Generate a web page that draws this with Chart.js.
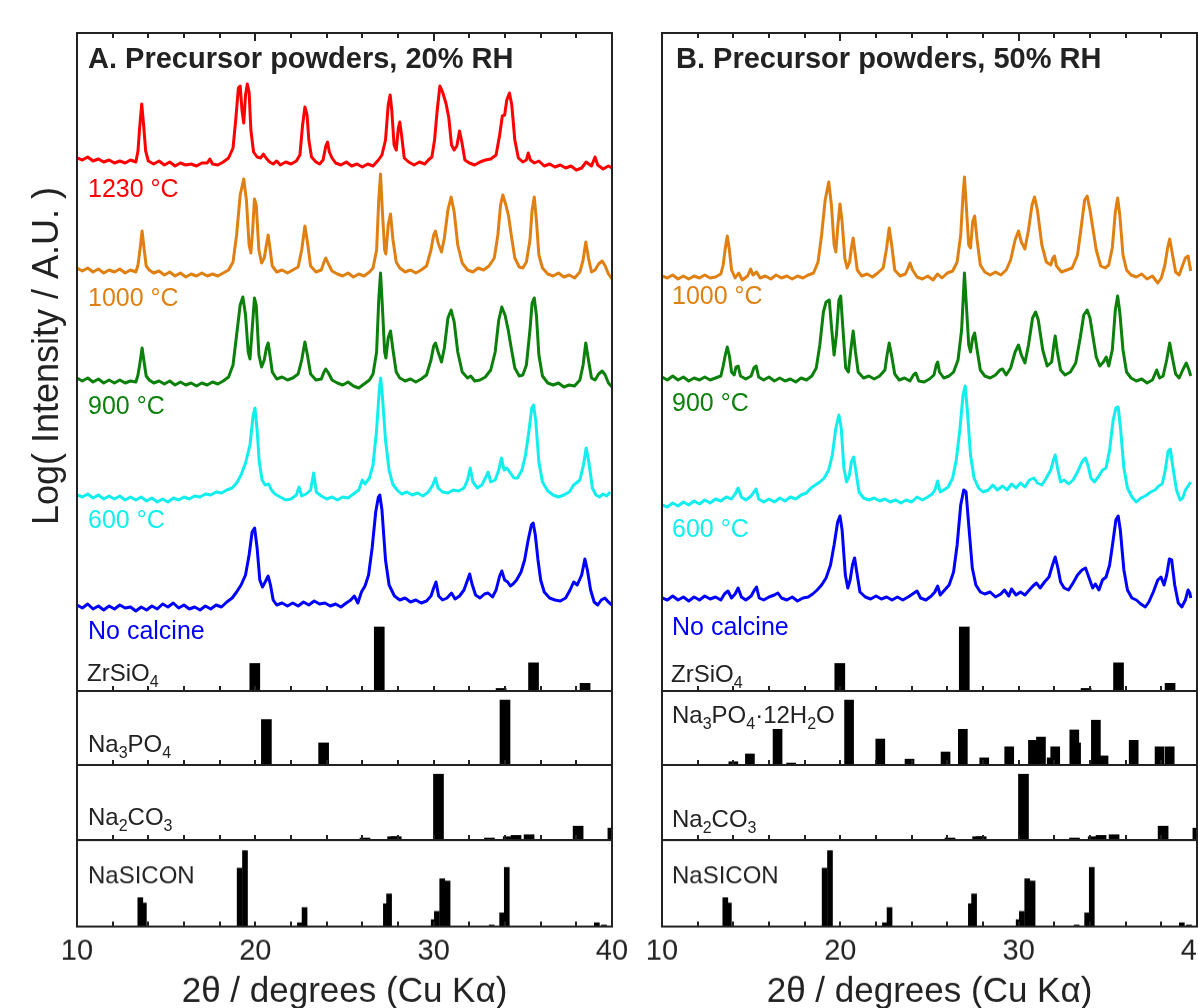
<!DOCTYPE html>
<html><head><meta charset="utf-8"><title>XRD of precursor powders</title>
<script src="https://cdn.jsdelivr.net/npm/chart.js@4.4.1/dist/chart.umd.min.js"></script>
<style>html,body{margin:0;padding:0;background:#fff;width:1198px;height:1008px;overflow:hidden;position:relative}canvas{position:absolute}</style>
</head><body>
<script>
// ---------------- DATA (2θ in degrees, intensity in offset log A.U.) ----------------
const twoThetaMin = 10, twoThetaMax = 40;
const tickStep = 10;
const xTitle = '2θ / degrees (Cu Kα)';
const yTitle = 'Log( Intensity / A.U. )';
const panelTitles = ['A. Precursor powders, 20% RH', 'B. Precursor powders, 50% RH'];
const seriesNames = ['1230 °C', '1000 °C', '900 °C', '600 °C', 'No calcine'];

// Panel A (20% RH) measured patterns
const A_1230C = [[10.0,533],[10.3,531],[10.6,534],[10.9,530],[11.2,532],[11.5,529],[11.8,531],[12.1,528],[12.4,530],[12.7,528],[13.0,531],[13.3,529],[13.42,540],[13.52,565],[13.63,587],[13.74,565],[13.85,540],[14.0,530],[14.3,527],[14.6,530],[14.9,526],[15.2,529],[15.5,525],[15.8,528],[16.1,526],[16.4,527],[16.7,525],[17.0,528],[17.3,528],[17.45,532],[17.6,527],[17.9,526],[18.2,529],[18.5,533],[18.75,543],[18.9,571],[19.05,603],[19.15,605],[19.25,581],[19.35,568],[19.45,596],[19.55,607],[19.65,599],[19.75,561],[19.9,539],[20.1,534],[20.3,533],[20.45,537],[20.6,533],[20.8,529],[21.0,527],[21.2,530],[21.4,526],[21.7,529],[22.0,527],[22.3,530],[22.5,536],[22.65,566],[22.78,584],[22.9,576],[23.0,551],[23.15,534],[23.4,529],[23.6,527],[23.8,531],[23.95,545],[24.05,549],[24.15,539],[24.3,533],[24.5,528],[24.8,526],[25.1,529],[25.4,525],[25.7,527],[26.0,524],[26.3,527],[26.6,525],[26.9,531],[27.1,536],[27.3,551],[27.45,586],[27.56,596],[27.65,581],[27.78,546],[27.9,541],[28.02,563],[28.1,569],[28.2,556],[28.35,533],[28.6,529],[28.9,526],[29.2,529],[29.5,527],[29.7,531],[29.9,534],[30.05,551],[30.2,581],[30.35,605],[30.5,599],[30.7,587],[30.85,573],[31.0,546],[31.15,541],[31.3,545],[31.45,560],[31.58,549],[31.75,531],[32.0,528],[32.3,526],[32.6,529],[32.9,531],[33.2,532],[33.5,536],[33.7,556],[33.85,575],[33.98,576],[34.1,591],[34.25,598],[34.38,586],[34.55,551],[34.75,533],[35.0,529],[35.2,531],[35.3,538],[35.42,531],[35.65,528],[35.9,530],[36.2,525],[36.5,527],[36.8,524],[37.1,526],[37.4,523],[37.7,525],[38.0,521],[38.3,523],[38.55,529],[38.7,527],[38.85,525],[39.05,534],[39.2,526],[39.5,522],[39.8,525],[40.0,523]];
const A_1000C = [[10.0,423],[10.3,420],[10.6,423],[10.9,419],[11.2,422],[11.5,418],[11.8,421],[12.1,419],[12.4,422],[12.7,418],[13.0,421],[13.3,419],[13.42,426],[13.53,441],[13.65,460],[13.77,441],[13.88,425],[14.05,421],[14.3,418],[14.6,420],[14.9,416],[15.2,419],[15.5,415],[15.8,418],[16.1,414],[16.4,417],[16.7,415],[17.0,418],[17.3,415],[17.6,417],[17.9,415],[18.2,418],[18.5,421],[18.75,429],[18.95,456],[19.15,496],[19.35,512],[19.5,491],[19.65,446],[19.75,438],[19.85,461],[19.95,492],[20.05,486],[20.2,441],[20.35,428],[20.5,433],[20.62,446],[20.72,456],[20.82,443],[20.95,425],[21.2,419],[21.5,421],[21.8,418],[22.1,421],[22.4,424],[22.6,441],[22.78,465],[22.92,449],[23.1,425],[23.4,419],[23.7,421],[23.85,429],[23.95,433],[24.1,427],[24.3,420],[24.6,417],[24.9,415],[25.2,418],[25.5,414],[25.8,417],[26.1,415],[26.4,419],[26.6,423],[26.8,441],[26.92,491],[27.02,517],[27.12,481],[27.25,441],[27.32,437],[27.45,466],[27.58,477],[27.72,451],[27.9,429],[28.1,423],[28.4,419],[28.7,421],[29.0,418],[29.3,421],[29.6,425],[29.85,441],[30.0,456],[30.1,460],[30.25,448],[30.44,439],[30.6,453],[30.8,481],[30.98,494],[31.15,479],[31.35,446],[31.6,428],[31.9,421],[32.2,419],[32.5,423],[32.8,421],[33.1,425],[33.4,433],[33.6,456],[33.75,486],[33.88,496],[34.05,486],[34.2,475],[34.35,456],[34.55,433],[34.8,424],[35.0,423],[35.2,429],[35.4,451],[35.52,481],[35.64,494],[35.76,471],[35.9,436],[36.1,423],[36.4,417],[36.7,415],[37.0,418],[37.3,414],[37.6,416],[37.9,413],[38.2,419],[38.38,431],[38.53,449],[38.68,433],[38.85,419],[39.05,421],[39.25,427],[39.45,430],[39.62,425],[39.8,417],[40.0,412]];
const A_900C = [[10.0,313],[10.3,310],[10.6,313],[10.9,309],[11.2,312],[11.5,308],[11.8,311],[12.1,308],[12.4,311],[12.7,308],[13.0,310],[13.3,309],[13.42,316],[13.53,328],[13.65,343],[13.77,328],[13.88,315],[14.05,311],[14.3,308],[14.6,310],[14.9,307],[15.2,310],[15.5,306],[15.8,309],[16.1,306],[16.4,308],[16.7,305],[17.0,308],[17.3,306],[17.6,309],[17.9,307],[18.2,310],[18.5,314],[18.75,326],[18.95,356],[19.15,386],[19.3,394],[19.45,376],[19.6,339],[19.7,332],[19.8,356],[19.95,393],[20.05,386],[20.2,336],[20.35,324],[20.5,331],[20.62,343],[20.72,348],[20.82,336],[20.95,319],[21.2,312],[21.5,314],[21.8,311],[22.1,313],[22.4,317],[22.6,331],[22.78,349],[22.92,336],[23.1,317],[23.4,311],[23.7,312],[23.85,319],[23.95,322],[24.1,318],[24.3,311],[24.6,308],[24.9,306],[25.2,309],[25.5,305],[25.8,303],[26.1,307],[26.4,311],[26.6,317],[26.8,339],[26.92,391],[27.02,418],[27.12,386],[27.25,339],[27.32,333],[27.45,353],[27.58,360],[27.72,341],[27.9,319],[28.1,313],[28.4,310],[28.7,312],[29.0,309],[29.3,312],[29.6,316],[29.85,331],[30.0,345],[30.1,348],[30.25,339],[30.44,329],[30.6,343],[30.8,373],[30.98,381],[31.15,369],[31.35,339],[31.6,319],[31.9,313],[32.08,315],[32.3,310],[32.6,311],[32.9,314],[33.2,321],[33.45,339],[33.65,371],[33.82,384],[34.0,376],[34.18,361],[34.35,343],[34.55,323],[34.8,315],[35.0,316],[35.2,326],[35.4,361],[35.52,388],[35.64,393],[35.76,376],[35.9,336],[36.1,315],[36.4,308],[36.7,306],[37.0,308],[37.3,304],[37.6,306],[37.9,305],[38.2,311],[38.38,326],[38.53,348],[38.68,331],[38.85,313],[39.05,311],[39.25,317],[39.45,320],[39.62,316],[39.8,308],[40.0,304]];
const A_600C = [[10.0,196],[10.3,194],[10.6,197],[10.9,193],[11.2,196],[11.5,192],[11.8,195],[12.1,192],[12.4,195],[12.7,191],[13.0,194],[13.3,191],[13.6,194],[13.9,190],[14.2,193],[14.5,189],[14.8,192],[15.1,189],[15.4,193],[15.7,191],[16.0,194],[16.3,192],[16.6,195],[16.9,194],[17.2,197],[17.5,196],[17.8,199],[18.1,198],[18.4,201],[18.7,203],[18.95,208],[19.2,216],[19.45,228],[19.7,246],[19.88,276],[19.98,283],[20.1,261],[20.22,229],[20.38,211],[20.55,206],[20.75,207],[20.9,201],[21.1,197],[21.4,194],[21.7,191],[22.0,192],[22.3,196],[22.45,204],[22.6,195],[22.85,197],[23.1,201],[23.27,218],[23.42,199],[23.7,195],[24.0,192],[24.3,194],[24.6,191],[24.9,194],[25.2,193],[25.5,197],[25.8,201],[26.0,211],[26.15,207],[26.4,213],[26.6,226],[26.8,261],[26.95,301],[27.03,313],[27.12,296],[27.3,251],[27.5,221],[27.7,207],[27.95,201],[28.2,197],[28.5,199],[28.8,196],[29.1,198],[29.4,195],[29.7,199],[29.95,206],[30.1,213],[30.25,203],[30.5,199],[30.8,198],[31.1,201],[31.4,200],[31.7,203],[31.9,211],[32.05,223],[32.2,209],[32.45,203],[32.7,206],[32.9,213],[33.05,219],[33.2,209],[33.45,211],[33.65,221],[33.8,233],[33.95,221],[34.1,223],[34.3,218],[34.5,213],[34.7,213],[34.95,221],[35.15,236],[35.35,261],[35.5,283],[35.6,286],[35.72,271],[35.9,229],[36.1,209],[36.4,200],[36.7,196],[37.0,194],[37.3,196],[37.6,199],[37.85,206],[38.0,208],[38.2,211],[38.4,226],[38.55,243],[38.7,229],[38.9,203],[39.1,196],[39.3,194],[39.5,197],[39.7,195],[39.9,199]];
const A_noCalcine = [[10.0,86],[10.3,83],[10.6,87],[10.9,82],[11.2,85],[11.5,81],[11.8,85],[12.1,82],[12.4,86],[12.7,83],[13.0,84],[13.3,80],[13.6,84],[13.9,81],[14.2,85],[14.5,82],[14.8,87],[15.1,84],[15.4,88],[15.7,83],[16.0,86],[16.3,82],[16.6,84],[16.9,81],[17.2,85],[17.5,82],[17.8,86],[18.1,84],[18.4,89],[18.7,93],[18.95,99],[19.2,106],[19.45,116],[19.65,136],[19.82,159],[19.96,163],[20.1,143],[20.25,111],[20.4,104],[20.55,109],[20.72,115],[20.85,106],[21.0,91],[21.2,86],[21.5,88],[21.8,85],[22.1,88],[22.4,85],[22.7,89],[23.0,86],[23.3,90],[23.6,87],[23.9,88],[24.2,85],[24.5,87],[24.8,84],[25.1,88],[25.35,91],[25.55,95],[25.75,88],[25.95,99],[26.15,105],[26.35,116],[26.55,143],[26.75,179],[26.9,194],[26.98,196],[27.1,181],[27.3,131],[27.5,106],[27.8,95],[28.1,91],[28.4,93],[28.7,89],[29.0,91],[29.3,88],[29.6,90],[29.85,95],[30.0,103],[30.13,109],[30.28,95],[30.5,91],[30.75,93],[31.0,98],[31.2,92],[31.45,95],[31.7,101],[31.9,111],[32.02,117],[32.15,107],[32.35,96],[32.6,93],[32.85,97],[33.05,98],[33.3,94],[33.5,101],[33.7,115],[33.82,120],[33.98,111],[34.15,109],[34.3,105],[34.45,107],[34.65,111],[34.9,119],[35.1,131],[35.3,151],[35.48,166],[35.58,168],[35.7,156],[35.85,131],[36.0,111],[36.2,99],[36.5,93],[36.8,91],[37.1,90],[37.4,93],[37.65,101],[37.85,109],[38.05,106],[38.3,116],[38.48,132],[38.62,121],[38.8,101],[39.0,89],[39.2,86],[39.4,91],[39.6,93],[39.8,89],[40.0,86]];

// Panel B (50% RH) measured patterns
const B_1000C = [[10.0,415],[10.3,413],[10.6,416],[10.9,412],[11.2,415],[11.5,412],[11.8,415],[12.1,413],[12.4,416],[12.7,413],[13.0,414],[13.3,417],[13.43,426],[13.55,443],[13.66,455],[13.78,441],[13.9,421],[14.1,413],[14.3,418],[14.5,411],[14.8,415],[14.97,422],[15.1,416],[15.3,419],[15.5,413],[15.8,415],[16.1,412],[16.4,416],[16.7,413],[17.0,415],[17.3,412],[17.6,415],[17.9,413],[18.2,416],[18.5,418],[18.75,429],[18.95,456],[19.15,491],[19.35,509],[19.5,486],[19.65,446],[19.75,439],[19.85,463],[19.98,487],[20.1,469],[20.25,433],[20.38,423],[20.52,429],[20.62,443],[20.72,453],[20.82,439],[20.95,421],[21.2,415],[21.5,417],[21.8,414],[22.1,418],[22.4,423],[22.58,441],[22.74,463],[22.88,446],[23.05,421],[23.35,415],[23.65,417],[23.8,423],[23.91,428],[24.05,421],[24.3,414],[24.6,412],[24.9,415],[25.2,411],[25.45,417],[25.7,413],[26.0,418],[26.3,420],[26.55,429],[26.75,456],[26.88,496],[26.96,514],[27.06,486],[27.2,446],[27.3,443],[27.42,469],[27.53,475],[27.67,451],[27.85,426],[28.1,419],[28.4,416],[28.7,419],[29.0,416],[29.3,421],[29.55,431],[29.8,451],[29.99,460],[30.15,449],[30.35,442],[30.55,461],[30.75,486],[30.89,494],[31.05,481],[31.3,446],[31.55,429],[31.8,426],[31.92,433],[32.01,435],[32.12,425],[32.4,419],[32.7,421],[33.0,423],[33.3,436],[33.5,463],[33.7,491],[33.84,495],[34.0,481],[34.15,464],[34.35,441],[34.6,425],[34.85,423],[35.05,426],[35.25,443],[35.42,479],[35.55,493],[35.67,476],[35.85,436],[36.05,421],[36.3,416],[36.6,414],[36.9,417],[37.2,412],[37.5,415],[37.8,408],[38.0,413],[38.2,426],[38.35,443],[38.47,452],[38.6,439],[38.8,419],[39.0,416],[39.2,426],[39.35,433],[39.5,435],[39.65,420]];
const B_900C = [[10.0,314],[10.3,311],[10.6,315],[10.9,311],[11.2,314],[11.5,310],[11.8,313],[12.1,311],[12.4,314],[12.7,311],[13.0,313],[13.3,315],[13.43,325],[13.55,336],[13.66,344],[13.78,335],[13.9,319],[14.05,316],[14.15,324],[14.27,325],[14.4,315],[14.7,312],[15.0,315],[15.15,323],[15.28,325],[15.42,314],[15.7,311],[16.0,314],[16.3,310],[16.6,313],[16.9,310],[17.2,312],[17.5,309],[17.8,313],[18.1,311],[18.4,315],[18.65,323],[18.85,346],[19.05,379],[19.2,389],[19.38,391],[19.52,361],[19.65,336],[19.78,356],[19.92,391],[20.02,395],[20.15,361],[20.3,323],[20.45,319],[20.6,343],[20.72,360],[20.85,339],[21.0,319],[21.3,313],[21.6,315],[21.9,312],[22.2,315],[22.5,321],[22.62,336],[22.74,348],[22.88,335],[23.05,317],[23.3,311],[23.6,313],[23.9,310],[24.1,316],[24.23,318],[24.4,310],[24.7,309],[25.0,312],[25.25,316],[25.38,326],[25.46,329],[25.56,319],[25.8,313],[26.1,315],[26.35,319],[26.6,331],[26.8,361],[26.9,396],[26.96,418],[27.05,391],[27.2,346],[27.3,339],[27.42,353],[27.53,358],[27.67,341],[27.85,321],[28.1,315],[28.4,313],[28.7,316],[28.95,321],[29.1,322],[29.3,316],[29.55,323],[29.8,339],[29.99,346],[30.15,336],[30.35,328],[30.55,346],[30.78,373],[30.95,379],[31.1,371],[31.35,341],[31.6,325],[31.85,329],[31.97,346],[32.05,355],[32.17,339],[32.35,321],[32.6,316],[32.9,319],[33.2,328],[33.45,353],[33.65,376],[33.84,381],[34.0,373],[34.15,356],[34.35,334],[34.55,325],[34.75,329],[34.91,334],[35.05,325],[35.25,341],[35.42,381],[35.55,395],[35.67,379],[35.85,341],[36.05,319],[36.3,313],[36.6,310],[36.9,312],[37.2,308],[37.5,311],[37.74,321],[37.9,313],[38.1,315],[38.3,331],[38.47,348],[38.6,335],[38.8,317],[39.0,313],[39.2,321],[39.4,328],[39.55,321],[39.65,315]];
const B_600C = [[10.0,186],[10.3,184],[10.6,188],[10.9,185],[11.2,189],[11.5,186],[11.8,190],[12.1,187],[12.4,191],[12.7,188],[13.0,192],[13.3,190],[13.6,194],[13.9,192],[14.1,197],[14.27,203],[14.45,194],[14.7,191],[15.0,195],[15.15,199],[15.28,202],[15.42,192],[15.7,189],[16.0,192],[16.3,189],[16.6,193],[16.9,190],[17.2,194],[17.5,192],[17.8,196],[18.1,198],[18.35,203],[18.6,206],[18.85,209],[19.1,213],[19.35,221],[19.55,236],[19.75,263],[19.92,276],[20.05,263],[20.2,223],[20.35,209],[20.5,215],[20.62,229],[20.75,234],[20.88,219],[21.05,199],[21.3,193],[21.6,191],[21.9,193],[22.2,190],[22.5,192],[22.8,189],[23.1,191],[23.4,188],[23.7,191],[24.0,189],[24.3,194],[24.6,191],[24.9,194],[25.15,197],[25.3,201],[25.46,210],[25.6,199],[25.8,201],[26.05,204],[26.3,213],[26.5,231],[26.7,261],[26.88,296],[27.0,305],[27.12,281],[27.3,236],[27.5,213],[27.75,203],[28.0,199],[28.3,201],[28.55,206],[28.8,201],[29.1,205],[29.35,201],[29.6,207],[29.85,203],[30.1,208],[30.35,204],[30.6,211],[30.85,213],[31.05,208],[31.3,206],[31.55,213],[31.8,221],[31.95,231],[32.05,236],[32.18,223],[32.35,209],[32.55,211],[32.8,207],[33.05,211],[33.3,219],[33.55,229],[33.74,233],[33.9,225],[34.05,213],[34.25,209],[34.5,215],[34.7,221],[34.9,223],[35.1,241],[35.3,271],[35.45,283],[35.58,284],[35.72,261],[35.9,223],[36.1,203],[36.35,194],[36.6,189],[36.85,193],[37.1,195],[37.4,199],[37.65,201],[37.85,205],[38.05,207],[38.22,221],[38.38,240],[38.5,242],[38.63,226],[38.85,201],[39.05,191],[39.2,193],[39.35,201],[39.5,205],[39.65,209]];
const B_noCalcine = [[10.0,93],[10.3,91],[10.6,95],[10.9,91],[11.2,94],[11.5,90],[11.8,94],[12.1,91],[12.4,95],[12.7,92],[13.0,94],[13.3,91],[13.5,97],[13.7,100],[13.9,93],[14.1,97],[14.27,103],[14.45,94],[14.7,91],[15.0,95],[15.15,100],[15.3,104],[15.45,93],[15.7,91],[16.0,94],[16.3,96],[16.5,98],[16.7,93],[17.0,91],[17.3,94],[17.6,90],[17.9,93],[18.2,94],[18.45,97],[18.7,101],[18.95,106],[19.2,113],[19.45,126],[19.65,146],[19.85,169],[19.98,175],[20.1,161],[20.28,116],[20.42,103],[20.55,111],[20.68,126],[20.8,133],[20.92,119],[21.1,99],[21.4,94],[21.7,92],[22.0,95],[22.3,92],[22.6,94],[22.9,91],[23.2,94],[23.5,91],[23.8,94],[24.05,97],[24.3,100],[24.5,93],[24.8,91],[25.1,95],[25.3,99],[25.46,105],[25.6,96],[25.85,101],[26.1,106],[26.35,119],[26.55,146],[26.75,186],[26.92,201],[27.05,199],[27.2,166],[27.4,123],[27.6,106],[27.85,99],[28.1,97],[28.4,99],[28.7,94],[29.0,97],[29.2,101],[29.45,95],[29.6,102],[29.85,96],[30.1,99],[30.35,96],[30.6,101],[30.8,105],[31.0,108],[31.2,103],[31.45,109],[31.7,114],[31.9,126],[32.05,134],[32.2,123],[32.35,109],[32.55,103],[32.8,101],[33.05,108],[33.3,116],[33.55,121],[33.75,123],[33.95,113],[34.15,103],[34.3,107],[34.5,101],[34.7,111],[34.9,114],[35.1,126],[35.3,151],[35.45,171],[35.58,175],[35.7,161],[35.9,121],[36.1,101],[36.35,93],[36.6,91],[36.85,87],[37.1,84],[37.3,89],[37.55,99],[37.8,111],[37.98,114],[38.15,106],[38.3,116],[38.45,132],[38.58,131],[38.75,106],[38.95,88],[39.15,84],[39.35,91],[39.5,101],[39.6,98],[39.65,93]];

// Reference stick patterns: [2θ, relative intensity %]
const ZrSiO4 = [[19.97,43],[26.95,100],[33.78,4],[35.6,44],[38.49,12]];
const Na3PO4 = [[20.62,70],[23.83,34],[34.0,100]];
const Na3PO4_12H2O = [[14.0,5],[14.93,17],[16.48,55],[17.24,3],[20.49,100],[22.24,40],[23.88,9],[25.9,20],[26.87,55],[28.07,11],[29.47,28],[30.8,38],[31.25,43],[31.85,11],[32.05,28],[33.12,54],[33.22,34],[34.33,69],[34.76,14],[36.45,38],[37.9,28],[38.47,28]];
const Na2CO3 = [[26.15,3],[27.7,5],[27.9,5],[30.27,100],[33.13,3],[34.18,5],[34.62,7],[35.35,8],[38.1,21],[40.05,18]];
const NaSICON = [[13.55,38],[13.75,31],[19.12,77],[19.42,100],[22.5,5],[22.76,25],[27.32,30],[27.5,43],[30.0,9],[30.18,20],[30.48,63],[30.78,60],[33.25,2],[33.84,18],[34.1,78],[39.15,5],[39.55,2]];

// ---------------- STYLE ----------------
const FONT = '"Liberation Sans", Arial, Helvetica, sans-serif';
Chart.defaults.font.family = FONT;
const INK = '#222';
const COLORS = {c1230:'#ff0000', c1000:'#e08012', c900:'#0b800b', c600:'#12eeee', c0:'#0000ff'};

function decor(cfg, off) {
  return {
    id: 'decor',
    afterDatasetsDraw(chart) {
      const {ctx, chartArea: a} = chart;
      const x = chart.scales.x;
      ctx.save();
      ctx.strokeStyle = INK; ctx.lineWidth = 2;
      ctx.strokeRect(a.left, a.top, a.right - a.left, a.bottom - a.top);
      ctx.beginPath();
      for (let v = 12; v < 40; v += 2) {
        const px = Math.round(x.getPixelForValue(v));
        ctx.moveTo(px, a.bottom); ctx.lineTo(px, a.bottom - 5);
        if (cfg.topTicks) { ctx.moveTo(px, a.top); ctx.lineTo(px, a.top + (v % 10 === 0 ? 8 : 5)); }
      }
      ctx.stroke();
      (cfg.labels || []).forEach(l => {
        ctx.save();
        ctx.fillStyle = l.color || INK;
        const w = l.bold ? 'bold ' : '';
        if (l.rotate) {
          ctx.translate(l.x - off.x, l.y - off.y);
          ctx.rotate(-Math.PI / 2);
          ctx.font = w + l.size + 'px ' + FONT;
          ctx.textAlign = 'center'; ctx.textBaseline = 'middle';
          ctx.fillText(l.parts[0][0], 0, 0);
        } else {
          ctx.textBaseline = 'alphabetic';
          let cx = l.x - off.x; const cy = l.y - off.y;
          l.parts.forEach(p => {
            const sub = p[1];
            const s = sub ? Math.round(l.size * 0.68) : l.size;
            ctx.font = w + s + 'px ' + FONT;
            ctx.fillText(p[0], cx, cy + (sub ? l.size * 0.24 : 0));
            cx += ctx.measureText(p[0]).width;
          });
        }
        ctx.restore();
      });
      ctx.restore();
    }
  };
}

const pts = arr => arr.map(p => ({x: p[0], y: p[1]}));
const line = (arr, color) => ({type:'line', data: pts(arr), borderColor: color, borderWidth: 3, borderJoinStyle: 'round', pointRadius: 0, tension: 0, fill: false, yAxisID: 'y', order: 1});
const sticks = (arr, axis, thick) => ({type:'bar', data: pts(arr), backgroundColor: '#000', borderWidth: 0, barThickness: thick, yAxisID: axis, order: 2});

function addChart(c) {
  const build = (extraH) => {
    const cv = document.createElement('canvas');
    const W = c.R - c.L + c.pad.l + c.pad.r;
    const H = c.B - c.T + c.pad.t + c.pad.b + extraH;
    const off = {x: c.L - c.pad.l, y: c.T - c.pad.t};
    cv.width = W; cv.height = H;
    Object.assign(cv.style, {left: off.x + 'px', top: off.y + 'px', width: W + 'px', height: H + 'px'});
    document.body.appendChild(cv);
    const scales = {
      x: {type:'linear', min: twoThetaMin, max: twoThetaMax, offset: false, display: !!c.axis, position:'bottom',
          grid: {display: false, drawTicks: false, offset: false}, border: {display: false},
          ticks: {stepSize: tickStep, autoSkip: false, maxRotation: 0, minRotation: 0, color: INK, padding: 8, font: {family: FONT, size: 29}},
          title: {display: !!c.axis, text: xTitle, color: INK, font: {family: FONT, size: 35}, padding: {top: 24, bottom: 0}}},
      y: {type:'linear', min: 0, max: c.yMax, display: false}
    };
    if (c.yrMax) scales.yr = {type:'linear', min: 0, max: c.yrMax, display: false};
    const chart = new Chart(cv, {
      type: 'line',
      data: {datasets: c.datasets},
      options: {responsive: false, animation: false, devicePixelRatio: 1, events: [],
        layout: {padding: {left: c.pad.l, top: c.pad.t, right: c.pad.r, bottom: c.pad.b}},
        plugins: {legend: {display: false}, tooltip: {enabled: false}, title: {display: false}},
        scales},
      plugins: [decor(c, off)]
    });
    return chart;
  };
  let extra = c.axis ? 120 : 0;
  let ch = build(extra);
  if (c.axis) {
    const a = ch.chartArea;
    const diff = (c.B - c.T) - (a.bottom - a.top);
    if (Math.abs(diff) > 0.3) { const cv = ch.canvas; ch.destroy(); cv.remove(); ch = build(extra + diff); }
  }
  return ch;
}

// ---------------- LAYOUT ----------------
const panels = [
  {L: 77, R: 612, padL: 77, padR: 20, lx: 88, tx: 88, title: panelTitles[0],
   curves: [[A_1230C, COLORS.c1230, seriesNames[0], 197], [A_1000C, COLORS.c1000, seriesNames[1], 306], [A_900C, COLORS.c900, seriesNames[2], 414], [A_600C, COLORS.c600, seriesNames[3], 528], [A_noCalcine, COLORS.c0, seriesNames[4], 639]],
   zrY: 681, refs: [[Na3PO4, [['Na'],['3',1],['PO'],['4',1]], 752, 10], [Na2CO3, [['Na'],['2',1],['CO'],['3',1]], 825, 10], [NaSICON, [['NaSICON']], 883, 5]], yTitle: true},
  {L: 662, R: 1197, padL: 40, padR: 40, lx: 672, tx: 676, title: panelTitles[1],
   curves: [[B_1000C, COLORS.c1000, seriesNames[1], 304], [B_900C, COLORS.c900, seriesNames[2], 411], [B_600C, COLORS.c600, seriesNames[3], 537], [B_noCalcine, COLORS.c0, seriesNames[4], 635]],
   zrY: 682, refs: [[Na3PO4_12H2O, [['Na'],['3',1],['PO'],['4',1],['·12H'],['2',1],['O']], 723, 9], [Na2CO3, [['Na'],['2',1],['CO'],['3',1]], 827, 10], [NaSICON, [['NaSICON']], 883, 5]], yTitle: false}
];
const rows = [[691, 765], [765, 840], [840, 915]];

panels.forEach(p => {
  const labels = [{parts: [[p.title]], x: p.tx, y: 68, size: 29, bold: true}];
  p.curves.forEach(cv => labels.push({parts: [[cv[2]]], x: p.lx, y: cv[3], size: 25, color: cv[1]}));
  labels.push({parts: [['ZrSiO'], ['4', 1]], x: p.lx - 1, y: p.zrY, size: 24});
  if (p.yTitle) labels.push({parts: [[yTitle]], x: 48, y: 356, size: 36, rotate: true});
  addChart({L: p.L, R: p.R, T: 33, B: 691, pad: {l: p.padL, r: p.padR, t: 33, b: 10}, yMax: 658, yrMax: 1028, topTicks: true,
    datasets: [...p.curves.map(cv => line(cv[0], cv[1])), sticks(ZrSiO4, 'yr', 10)], labels});
  p.refs.forEach((r, i) => {
    const isAxis = i === 2;
    addChart({L: p.L, R: p.R, T: rows[i][0], B: rows[i][1], pad: {l: p.padL, r: isAxis ? 50 : p.padR, t: 10, b: isAxis ? 0 : 10}, yMax: 114,
      axis: isAxis, datasets: [sticks(r[0], 'y', r[3])], labels: [{parts: r[1], x: p.lx, y: r[2], size: 24}]});
  });
});
</script>
</body></html>
